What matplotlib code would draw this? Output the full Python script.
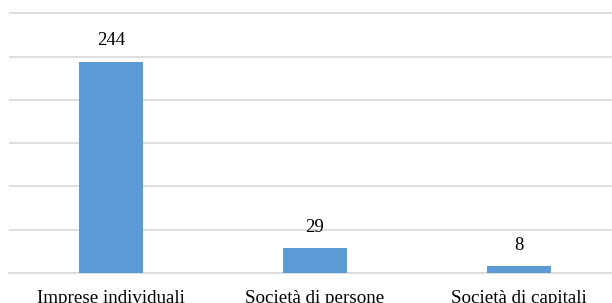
import matplotlib.pyplot as plt

categories = ['Imprese individuali', 'Società di persone', 'Società di capitali']
values = [244, 29, 8]

plt.rcParams['font.family'] = ['Liberation Serif', 'DejaVu Serif']

fig = plt.figure(figsize=(6.12, 3.03), dpi=100)
ax = fig.add_axes([9/612, 30/303, 603/612, 261/303])

x = range(len(categories))
bars = ax.bar(x, values, width=0.31, color='#5b9bd5', zorder=3)

# value labels above the bars
for b, v in zip(bars, values):
    ax.annotate(str(v), (b.get_x() + b.get_width()/2, v), xytext=(0, 15),
                textcoords='offset points', ha='center', va='center', fontsize=13.5)

ax.set_xlim(-0.5, 2.456)
ax.set_ylim(0, 301.5)
ax.set_yticks(range(0, 301, 50))
ax.yaxis.grid(True, color='#d9d9d9', linewidth=1.2, zorder=0)
ax.tick_params(axis='y', left=False, labelleft=False)
ax.set_xticks(list(x))
ax.set_xticklabels(categories, fontsize=13.7)
ax.tick_params(axis='x', length=0, pad=21.5)
for lbl in ax.get_xticklabels():
    lbl.set_va('baseline')
for s in ['top', 'right', 'left']:
    ax.spines[s].set_visible(False)
ax.spines['bottom'].set_color('#d9d9d9')
ax.spines['bottom'].set_linewidth(1.2)

fig.savefig('out.png', dpi=100)
